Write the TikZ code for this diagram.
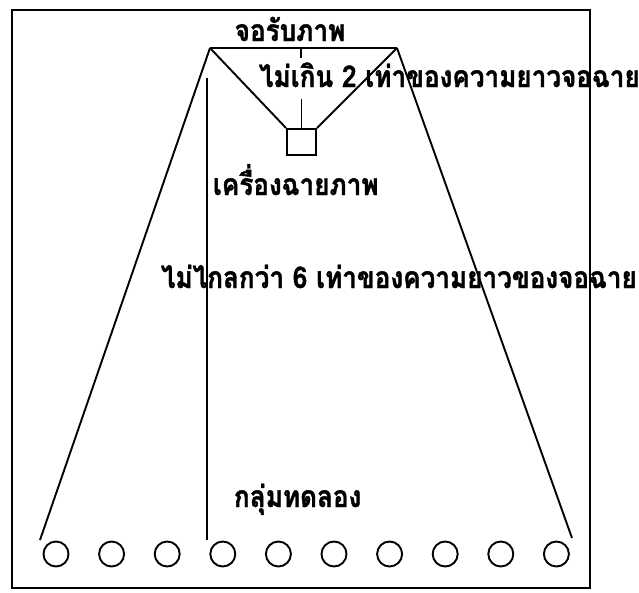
\documentclass[tikz,border=0pt]{standalone}
\usepackage{fontspec}
\newfontfamily\thaifont[Script=Thai, FakeStretch=0.87, BoldFeatures={FakeBold=1.2}]{Loma}
\tikzset{
  thaitext/.style={font=\thaifont\bfseries\fontsize{30}{32}\selectfont, inner sep=0pt},
}

\begin{document}
\begin{tikzpicture}[x=1pt, y=-1pt, line width=1.9pt]
  \useasboundingbox (0,0) rectangle (639,592);
  % กรอบห้อง
  \draw (12,10) rectangle (590,588);

  % จอรับภาพ
  \coordinate (jL) at (210,48);
  \coordinate (jR) at (397,48);
  \coordinate (jM) at (301,48);
  \draw (jL) -- (jR);
  \draw (jM) -- ++(0,10);
  \node[thaitext, anchor=base] (jo) at (290,41) {จอรับภาพ};

  % เครื่องฉายภาพ
  \node[draw, minimum width=29pt, minimum height=26pt, inner sep=0pt] (pj) at (301.5,142) {};
  \draw (jL) -- (pj.north west);
  \draw (jR) -- (pj.north east);
  \draw (pj.north) -- ++(0,-29);
  \node[thaitext, anchor=base west] (d2) at (258,87) {ไม่เกิน 2 เท่าของความยาวจอฉาย};
  \node[thaitext, anchor=base west] (pjt) at (212,195) {เครื่องฉายภาพ};

  % ระยะถึงกลุ่มทดลอง
  \coordinate (gL) at (40,540);
  \coordinate (gR) at (572,538);
  \draw (jL) -- (gL);
  \draw (jR) -- (gR);
  \draw (207,78) -- (207,540);
  \node[thaitext, anchor=base west] (d6) at (160,288) {ไม่ไกลกว่า 6 เท่าของความยาวของจอฉาย};

  % กลุ่มทดลอง
  \node[thaitext, anchor=base west] (grp) at (233,507) {กลุ่มทดลอง};
  \foreach \i in {0,...,9}
    \draw (56+55.6*\i,554) circle (12.5pt);
\end{tikzpicture}
\end{document}
